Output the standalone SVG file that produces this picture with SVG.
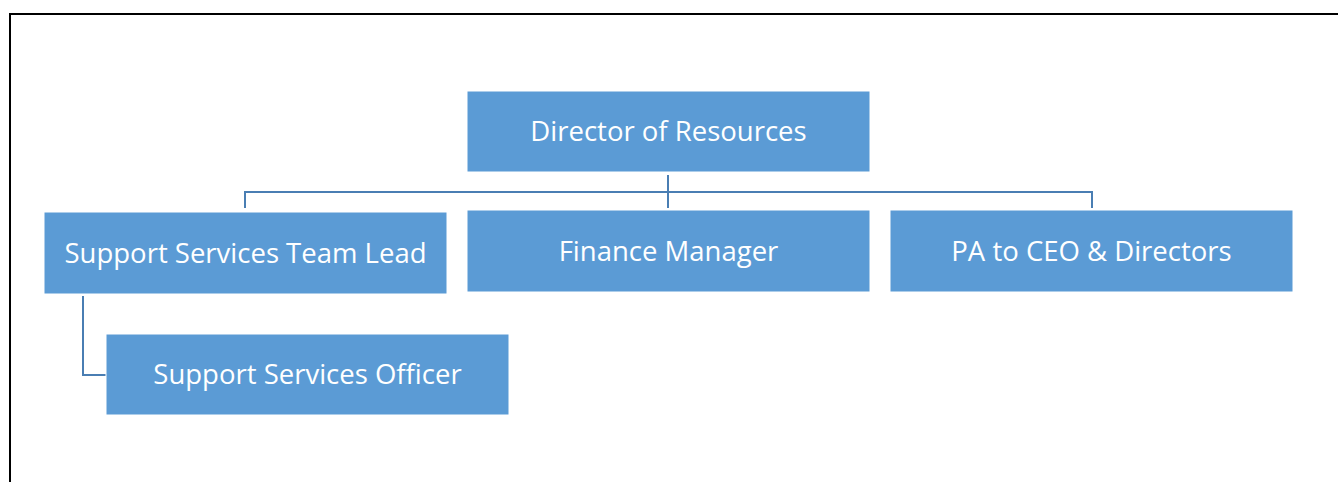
<svg xmlns="http://www.w3.org/2000/svg" width="1338" height="482" viewBox="0 0 1338 482">
  <style>
    .box { fill: #5b9bd5; stroke: #ffffff; stroke-width: 1; }
    .label { fill: #ffffff; font-family: "Open Sans", "Liberation Sans", sans-serif; font-size: 27.5px; text-anchor: middle; dominant-baseline: central; }
    .link { fill: none; stroke: #4a7eb3; stroke-width: 2; }
  </style>
  <rect x="0" y="0" width="1338" height="482" fill="#ffffff"/>
  <!-- page frame -->
  <path d="M10 482 V14 H1338" fill="none" stroke="#000000" stroke-width="2"/>

  <g id="connectors">
    <path class="link" d="M668 175 V208"/>
    <path class="link" d="M245 208 V192 H1092 V208"/>
    <path class="link" d="M83 296 V375 H106"/>
  </g>

  <g id="director">
    <rect class="box" x="467" y="91" width="403" height="81"/>
    <text class="label" x="668.5" y="130.5">Director of Resources</text>
  </g>
  <g id="team-lead">
    <rect class="box" x="44" y="212" width="403" height="82"/>
    <text class="label" x="245.5" y="252">Support Services Team Lead</text>
  </g>
  <g id="finance-manager">
    <rect class="box" x="467" y="210" width="403" height="82"/>
    <text class="label" x="668.5" y="250">Finance Manager</text>
  </g>
  <g id="pa">
    <rect class="box" x="890" y="210" width="403" height="82"/>
    <text class="label" x="1091.5" y="250">PA to CEO &amp; Directors</text>
  </g>
  <g id="officer">
    <rect class="box" x="106" y="334" width="403" height="81"/>
    <text class="label" x="307.5" y="373.5">Support Services Officer</text>
  </g>
</svg>
